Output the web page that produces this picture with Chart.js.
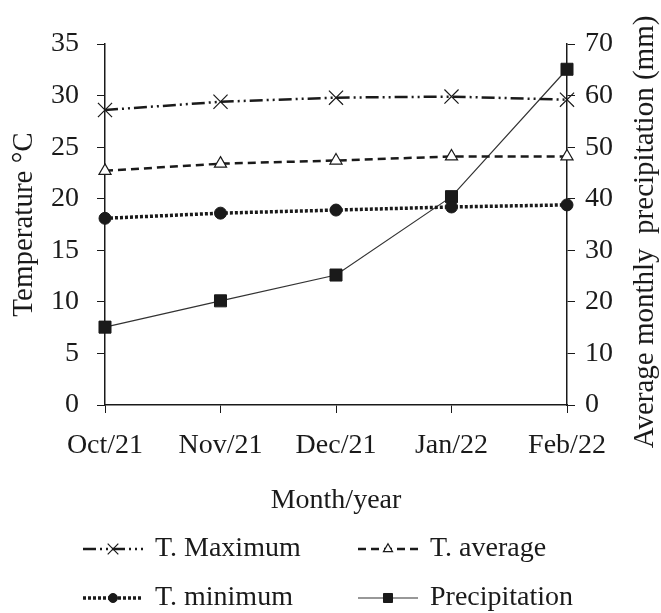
<!DOCTYPE html>
<html>
<head>
<meta charset="utf-8">
<script src="https://cdn.jsdelivr.net/npm/chart.js@4"></script>
<style>
  html, body { margin: 0; padding: 0; background: #fff; }
  #wrap { width: 661px; height: 613px; }
</style>
</head>
<body>
<div id="wrap"><canvas id="climaChart" width="661" height="613"></canvas></div>
<script>
// data
const months = ['Oct/21', 'Nov/21', 'Dec/21', 'Jan/22', 'Feb/22'];
const tMax = [28.6, 29.4, 29.8, 29.9, 29.6];
const tAvg = [22.7, 23.4, 23.7, 24.1, 24.1];
const tMin = [18.1, 18.6, 18.9, 19.2, 19.4];
const precip = [15.1, 20.2, 25.2, 40.4, 65.1];

const ink = '#1a1a1a';
const serif = 'Liberation Serif, Times New Roman, serif';
const fontSize = 28;
const titleSize = 29;

// two-column legend under the axis, drawn from the datasets
const bottomLegend = {
  id: 'bottomLegend',
  afterDraw(chart) {
    const ctx = chart.ctx;
    const cols = [83, 358];
    const rows = [chart.height - 64, chart.height - 15];
    chart.data.datasets.forEach((ds, i) => {
      const x = cols[i % 2];
      const y = rows[Math.floor(i / 2)];
      ctx.save();
      ctx.strokeStyle = ds.borderColor;
      ctx.lineWidth = ds.borderWidth;
      ctx.setLineDash(ds.borderDash || []);
      ctx.beginPath();
      ctx.moveTo(x, y);
      ctx.lineTo(x + 60, y);
      ctx.stroke();
      ctx.setLineDash([]);
      ctx.fillStyle = ds.pointBackgroundColor;
      ctx.strokeStyle = ds.pointBorderColor;
      ctx.lineWidth = ds.pointBorderWidth;
      Chart.helpers.drawPoint(ctx, {
        pointStyle: ds.pointStyle,
        radius: ds.pointRadius * 0.75,
        borderWidth: ds.pointBorderWidth,
        rotation: 0
      }, x + 30, y);
      ctx.fillStyle = ink;
      ctx.font = fontSize + 'px ' + serif;
      ctx.textBaseline = 'middle';
      ctx.fillText(ds.label, x + 72, y);
      ctx.restore();
    });
  }
};

// right axis title reads bottom-to-top in the figure
const rightTitle = {
  id: 'rightTitle',
  afterDraw(chart) {
    const t = chart.options.scales.y1.title;
    const ctx = chart.ctx;
    ctx.save();
    ctx.translate(chart.width - 16, 232);
    ctx.rotate(-Math.PI / 2);
    ctx.fillStyle = ink;
    ctx.font = titleSize + 'px ' + serif;
    ctx.textAlign = 'center';
    ctx.textBaseline = 'middle';
    ctx.fillText(t.text, 0, 0);
    ctx.restore();
  }
};

const ctx = document.getElementById('climaChart').getContext('2d');
new Chart(ctx, {
  type: 'line',
  data: {
    labels: months,
    datasets: [
      {
        label: 'T. Maximum', data: tMax, yAxisID: 'y',
        borderColor: ink, borderWidth: 2.5, borderDash: [13, 4, 2, 4, 2, 4],
        pointStyle: 'crossRot', pointRadius: 10, pointBorderWidth: 1.2,
        pointBackgroundColor: ink, pointBorderColor: ink
      },
      {
        label: 'T. average', data: tAvg, yAxisID: 'y',
        borderColor: ink, borderWidth: 2.5, borderDash: [8, 5],
        pointStyle: 'triangle', pointRadius: 7, pointBorderWidth: 1.2,
        pointBackgroundColor: '#fff', pointBorderColor: ink
      },
      {
        label: 'T. minimum', data: tMin, yAxisID: 'y',
        borderColor: ink, borderWidth: 3.5, borderDash: [3, 2],
        pointStyle: 'circle', pointRadius: 6, pointBorderWidth: 1,
        pointBackgroundColor: ink, pointBorderColor: ink
      },
      {
        label: 'Precipitation', data: precip, yAxisID: 'y1',
        borderColor: '#333', borderWidth: 1.2,
        pointStyle: 'rect', pointRadius: 8.5, pointBorderWidth: 1,
        pointBackgroundColor: ink, pointBorderColor: ink
      }
    ]
  },
  options: {
    responsive: false,
    animation: false,
    layout: { padding: { top: 44, bottom: 96, left: 0, right: 0 } },
    plugins: {
      legend: { display: false },
      tooltip: { enabled: false }
    },
    scales: {
      x: {
        grid: { drawOnChartArea: false, drawTicks: true, tickLength: 8, color: ink },
        border: { display: true, color: ink, width: 1.5 },
        ticks: { color: ink, font: { family: serif, size: fontSize }, padding: 16, maxRotation: 0 },
        title: { display: true, text: 'Month/year', color: ink, font: { family: serif, size: fontSize }, padding: 0 },
        afterFit: s => { s.height = 112; }
      },
      y: {
        position: 'left', min: 0, max: 35,
        grid: { drawOnChartArea: false, drawTicks: true, tickLength: 8, color: ink },
        border: { display: true, color: ink, width: 1.5 },
        ticks: { stepSize: 5, color: ink, font: { family: serif, size: fontSize }, padding: 18 },
        title: { display: true, text: 'Temperature °C', color: ink, font: { family: serif, size: titleSize }, padding: { top: 7 } },
        afterFit: s => { s.width = 105; }
      },
      y1: {
        position: 'right', min: 0, max: 70,
        grid: { drawOnChartArea: false, drawTicks: true, tickLength: 8, color: ink },
        border: { display: true, color: ink, width: 1.5 },
        ticks: { stepSize: 10, color: ink, font: { family: serif, size: fontSize }, padding: 10 },
        title: { display: false, text: 'Average monthly  precipitation (mm)' },
        afterFit: s => { s.width = 94; }
      }
    }
  },
  plugins: [bottomLegend, rightTitle]
});
</script>
</body>
</html>
